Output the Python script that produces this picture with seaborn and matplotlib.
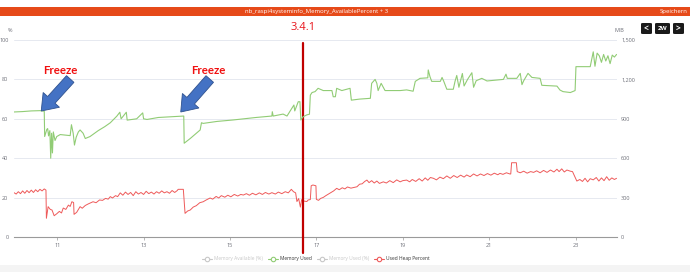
import matplotlib
matplotlib.use("Agg")
import matplotlib.pyplot as plt
import matplotlib.patches as mpatches
import matplotlib.lines as mlines
from matplotlib.transforms import IdentityTransform
import seaborn as sns
import pandas as pd

# ---------------- data ----------------
mem_used_days = [10.00, 10.20, 10.40, 10.60, 10.70, 10.71, 10.76, 10.78, 10.80, 10.83, 10.85, 10.87,
                 10.89, 10.91, 10.95, 10.99, 11.07, 11.20, 11.30, 11.33, 11.37, 11.40, 11.44, 11.49,
                 11.53, 11.60, 11.65, 11.76, 11.95, 12.10, 12.23, 12.38, 12.45, 12.48, 12.60, 12.62,
                 12.84, 12.98, 13.00, 13.08, 13.34, 13.60, 13.93, 13.94, 14.08, 14.31, 14.34, 14.38,
                 14.70, 15.07, 15.60, 15.97, 15.98, 16.00, 16.23, 16.32, 16.48, 16.50, 16.58, 16.62,
                 16.64, 16.69, 16.78, 16.84, 16.86, 16.90, 16.97, 17.04, 17.16, 17.36, 17.39, 17.44,
                 17.47, 17.59, 17.78, 17.81, 18.00, 18.25, 18.28, 18.36, 18.40, 18.43, 18.50, 18.59,
                 18.94, 19.09, 19.24, 19.29, 19.40, 19.58, 19.59, 19.63, 19.67, 19.87, 19.91, 19.95,
                 20.02, 20.17, 20.21, 20.25, 20.30, 20.38, 20.42, 20.50, 20.60, 20.64, 20.70, 20.83,
                 20.95, 21.33, 21.39, 21.42, 21.64, 21.72, 21.76, 21.80, 21.90, 21.99, 22.18, 22.22,
                 22.57, 22.64, 22.71, 22.88, 22.99, 23.01, 23.34, 23.41, 23.45, 23.50, 23.55, 23.60,
                 23.65, 23.70, 23.75, 23.80, 23.85, 23.90, 23.95]
mem_used_mib = [952, 955, 960, 962, 958, 765, 820, 825, 770, 810, 600, 790,
                640, 800, 735, 765, 780, 775, 772, 855, 790, 700, 760, 800,
                815, 790, 750, 765, 810, 840, 870, 920, 950, 900, 950, 890,
                900, 945, 900, 895, 910, 915, 921, 714, 750, 815, 870, 865,
                880, 891, 910, 921, 954, 921, 936, 921, 1005, 960, 1030, 1030,
                891, 915, 930, 935, 1080, 1100, 1107, 1132, 1115, 1115, 1068, 1068,
                1132, 1115, 1132, 1042, 1050, 1056, 1170, 1200, 1170, 1115, 1170, 1115,
                1115, 1120, 1110, 1185, 1208, 1212, 1272, 1221, 1185, 1185, 1215, 1185,
                1125, 1125, 1185, 1230, 1140, 1245, 1150, 1200, 1251, 1140, 1190, 1208,
                1188, 1200, 1240, 1208, 1208, 1246, 1160, 1190, 1246, 1215, 1208, 1155,
                1149, 1119, 1107, 1100, 1115, 1297, 1297, 1410, 1300, 1400, 1380, 1330,
                1390, 1340, 1380, 1320, 1385, 1370, 1390]

heap_days = [10.00, 10.05, 10.10, 10.15, 10.20, 10.25, 10.30, 10.35, 10.40, 10.45, 10.50, 10.55,
             10.60, 10.65, 10.70, 10.74, 10.75, 10.79, 10.84, 10.88, 10.93, 10.99, 11.05, 11.10,
             11.14, 11.20, 11.26, 11.30, 11.34, 11.38, 11.39, 11.45, 11.53, 11.58, 11.65, 11.72,
             11.83, 11.90, 11.98, 12.05, 12.12, 12.18, 12.23, 12.28, 12.35, 12.40, 12.46, 12.52,
             12.58, 12.64, 12.70, 12.76, 12.82, 12.88, 12.94, 13.00, 13.06, 13.12, 13.18, 13.24,
             13.30, 13.36, 13.42, 13.48, 13.54, 13.60, 13.66, 13.72, 13.78, 13.80, 13.92, 13.96,
             14.02, 14.08, 14.15, 14.22, 14.30, 14.38, 14.45, 14.54, 14.60, 14.68, 14.74, 14.80,
             14.88, 14.95, 15.02, 15.10, 15.18, 15.25, 15.31, 15.38, 15.45, 15.52, 15.60, 15.68,
             15.75, 15.82, 15.90, 15.97, 16.05, 16.12, 16.20, 16.28, 16.35, 16.42, 16.47, 16.52,
             16.55, 16.59, 16.63, 16.66, 16.72, 16.78, 16.81, 16.86, 16.88, 16.92, 16.99, 17.00,
             17.05, 17.10, 17.16, 17.22, 17.28, 17.34, 17.40, 17.47, 17.53, 17.60, 17.66, 17.72,
             17.80, 17.88, 17.94, 18.00, 18.06, 18.12, 18.17, 18.22, 18.28, 18.34, 18.40, 18.46,
             18.55, 18.62, 18.70, 18.78, 18.86, 18.94, 19.00, 19.09, 19.16, 19.22, 19.30, 19.38,
             19.45, 19.52, 19.58, 19.64, 19.71, 19.78, 19.86, 19.94, 20.02, 20.10, 20.18, 20.26,
             20.34, 20.42, 20.48, 20.56, 20.64, 20.72, 20.80, 20.88, 20.96, 21.04, 21.12, 21.20,
             21.25, 21.32, 21.40, 21.48, 21.50, 21.52, 21.63, 21.65, 21.72, 21.80, 21.88, 21.96,
             22.03, 22.10, 22.18, 22.26, 22.34, 22.42, 22.50, 22.57, 22.62, 22.68, 22.74, 22.80,
             22.88, 22.93, 23.03, 23.10, 23.16, 23.22, 23.28, 23.34, 23.41, 23.48, 23.54, 23.60,
             23.66, 23.72, 23.78, 23.84, 23.90, 23.95]
heap_pct = [22.5, 21.8, 23.0, 22.0, 23.4, 22.2, 23.6, 22.5, 23.8, 22.6, 24.0, 23.0,
            24.2, 23.4, 24.4, 23.8, 9.5, 15.4, 14.0, 13.7, 10.8, 11.8, 13.0, 12.2,
            14.7, 14.0, 16.2, 15.5, 17.9, 17.5, 11.5, 12.5, 15.4, 14.6, 16.0, 16.8,
            17.9, 17.4, 18.8, 18.6, 19.6, 19.2, 20.5, 19.8, 21.0, 20.5, 22.4, 21.2,
            22.8, 21.6, 22.6, 21.0, 23.0, 21.8, 22.6, 21.6, 23.2, 22.0, 22.8, 21.8,
            23.0, 22.2, 23.4, 22.4, 23.0, 22.2, 23.6, 22.6, 23.6, 24.2, 24.2, 12.0,
            13.2, 13.7, 15.2, 15.9, 17.4, 17.9, 18.8, 19.8, 19.2, 20.6, 19.8, 21.0,
            20.2, 21.2, 20.4, 21.6, 20.8, 21.6, 21.3, 22.0, 21.2, 22.2, 21.4, 22.4,
            21.6, 22.6, 21.8, 22.5, 21.8, 22.8, 22.0, 23.0, 22.4, 24.2, 23.0, 22.4,
            18.0, 19.5, 15.2, 19.0, 18.2, 18.0, 18.8, 19.0, 26.0, 26.4, 26.0, 19.1,
            18.6, 19.6, 20.1, 21.0, 21.8, 22.6, 23.4, 24.7, 24.0, 25.0, 24.4, 25.4,
            24.8, 25.2, 25.5, 26.8, 27.0, 28.2, 28.9, 27.6, 28.6, 27.4, 28.4, 27.2,
            28.0, 27.4, 28.6, 27.6, 29.0, 28.0, 28.6, 28.9, 28.0, 29.2, 28.2, 29.6,
            28.4, 30.0, 28.8, 30.2, 29.8, 29.0, 30.4, 29.6, 31.0, 29.8, 31.2, 30.2,
            31.4, 30.4, 31.5, 30.6, 32.0, 31.0, 32.0, 31.2, 32.2, 31.4, 32.4, 31.6,
            32.3, 31.8, 32.6, 32.0, 32.0, 37.7, 37.7, 33.2, 32.6, 33.4, 32.4, 33.2,
            32.8, 33.6, 32.6, 33.8, 32.8, 34.0, 33.0, 34.4, 33.2, 34.6, 33.0, 34.0,
            33.4, 33.2, 28.4, 29.2, 28.2, 29.8, 28.0, 29.6, 29.0, 30.2, 28.4, 30.0,
            28.6, 30.6, 28.8, 30.0, 29.2, 29.8]

x_ticks = [11, 13, 15, 17, 19, 21, 23]
left_ticks = [0, 20, 40, 60, 80, 100]
right_ticks = [0, 300, 600, 900, 1200, 1500]
right_labels = ["0", "300", "600", "900", "1,200", "1,500"]
release_day = 16.69
release_label = "3.4.1"
freeze_days = [10.70, 13.93]
legend_names = ["Memory Available (%)", "Memory Used", "Memory Used (%)", "Used Heap Percent"]

GREEN = "#91cc75"
RED = "#ee5a5a"
GRID = "#e6e9f0"
TXT = "#6e7079"

# ---------------- figure ----------------
sns.set_theme(style="white")
plt.rcParams["font.family"] = ["Open Sans", "DejaVu Sans"]
W, H = 690, 272
fig = plt.figure(figsize=(W / 100, H / 100), dpi=100)
fig.patch.set_facecolor("white")

def fx(px):
    return px / W

def fy(py):
    return 1 - py / H

# title bar
fig.add_artist(mpatches.Rectangle((0, fy(16)), 1, fy(7) - fy(16), transform=fig.transFigure,
                                  facecolor="#e64a19", edgecolor="none"))
fig.text(fx(317), fy(11.5), "nb_raspi4systeminfo_Memory_AvailablePercent + 3", color="white",
         fontsize=4.3, ha="center", va="center")
fig.text(fx(688), fy(11.5), "Speichern", color="white", fontsize=4.3, ha="right", va="center")

# buttons
for (x0, x1, lab) in [(641, 652, "<"), (655, 670, "2W"), (673, 684, ">")]:
    fig.add_artist(mpatches.FancyBboxPatch((fx(x0), fy(34)), fx(x1) - fx(x0), fy(23) - fy(34),
                                           boxstyle="round,pad=0,rounding_size=0.003",
                                           transform=fig.transFigure, facecolor="#1a1a1a",
                                           edgecolor="none"))
    fig.text(fx((x0 + x1) / 2), fy(28.5), lab, color="white", fontsize=4.5 if lab == "2W" else 6,
             ha="center", va="center", fontweight="bold")

# bottom band
fig.add_artist(mpatches.Rectangle((0, 0), 1, fy(265), transform=fig.transFigure,
                                  facecolor="#f4f4f4", edgecolor="none"))

ax = fig.add_axes([fx(14), fy(237), fx(617) - fx(14), fy(40) - fy(237)])
ax2 = ax.twinx()

df_heap = pd.DataFrame({"day": heap_days, "pct": heap_pct})
df_mem = pd.DataFrame({"day": mem_used_days, "mib": mem_used_mib})

sns.lineplot(data=df_heap, x="day", y="pct", ax=ax, color=RED, linewidth=0.7, estimator=None)
sns.lineplot(data=df_mem, x="day", y="mib", ax=ax2, color=GREEN, linewidth=0.8, estimator=None)

ax.set_xlim(10.0, 23.96)
ax.set_ylim(0, 100)
ax2.set_ylim(0, 1500)

ax.set_yticks(left_ticks)
ax.set_yticklabels([str(v) for v in left_ticks])
ax2.set_yticks(right_ticks)
ax2.set_yticklabels(right_labels)
ax.set_xticks(x_ticks)
ax.set_xticklabels([str(v) for v in x_ticks])

ax.grid(axis="y", color=GRID, linewidth=0.7)
ax.set_axisbelow(True)
for a in (ax, ax2):
    for s in ("top", "right", "left"):
        a.spines[s].set_visible(False)
    a.spines["bottom"].set_visible(False)
    a.set_xlabel("")
    a.set_ylabel("")
ax.spines["bottom"].set_visible(True)
ax.spines["bottom"].set_color("#9a9a9a")
ax.spines["bottom"].set_linewidth(0.8)
ax.tick_params(axis="x", length=2.5, width=0.5, color="#9a9a9a", labelsize=4, labelcolor=TXT, pad=1.5,
               bottom=True)
ax.tick_params(axis="y", length=0, labelsize=4, labelcolor=TXT, pad=4)
ax2.tick_params(axis="y", length=0, labelsize=4, labelcolor=TXT, pad=3)
ax.set_facecolor("none")
ax2.patch.set_visible(False)

fig.text(fx(10), fy(31), "%", fontsize=4, color=TXT, ha="center", va="center")
fig.text(fx(619), fy(31), "MiB", fontsize=4, color=TXT, ha="center", va="center")

# release marker
ax.axvline(release_day, ymin=(237 - 253) / 197, ymax=(237 - 43) / 197, color="#c00000",
           linewidth=1.6, clip_on=False, zorder=5)
ax.annotate(release_label, xy=(release_day, 100), xycoords="data", xytext=(0, 12),
            textcoords="offset pixels", ha="center", va="center", color="#e8141b", fontsize=8,
            annotation_clip=False)

# freeze annotations (arrows point at drop locations)
for fd, (tx, ty, tipy) in zip(freeze_days, [(60, 70, 111), (208, 70, 112)]):
    fig.text(fx(tx), fy(ty), "Freeze", color="#f01010", fontsize=8.3, fontweight="bold",
             ha="center", va="center", family=["Lato", "DejaVu Sans"])
    tipx = ax.transData.transform((fd, 0))[0] - 3
    tailx, taily = tipx + 29, H - 79
    arr = mpatches.FancyArrow(tailx, taily, tipx - tailx, (H - tipy) - taily, width=10,
                              head_width=22, head_length=15, length_includes_head=True,
                              transform=IdentityTransform(), facecolor="#4472c4",
                              edgecolor="#2f528f", linewidth=0.6, zorder=10)
    fig.add_artist(arr)

# legend (custom)
items = [(207, 214, legend_names[0], "#c8c8c8", "#c8c8c8"),
         (273, 280, legend_names[1], GREEN, "#333333"),
         (322, 329, legend_names[2], "#c8c8c8", "#c8c8c8"),
         (379, 386, legend_names[3], RED, "#333333")]
for cx, tx, name, col, tcol in items:
    fig.add_artist(mlines.Line2D([fx(cx - 5), fx(cx + 5)], [fy(258.5), fy(258.5)],
                                 transform=fig.transFigure, color=col, linewidth=0.8))
    fig.add_artist(mlines.Line2D([fx(cx)], [fy(258.5)], transform=fig.transFigure, marker="o",
                                 markersize=3.2, markerfacecolor="white", markeredgecolor=col,
                                 markeredgewidth=0.8, linestyle="none"))
    fig.text(fx(tx), fy(258.5), name, fontsize=3.5, color=tcol, ha="left", va="center")

fig.savefig("out.png", dpi=100, facecolor="white")
